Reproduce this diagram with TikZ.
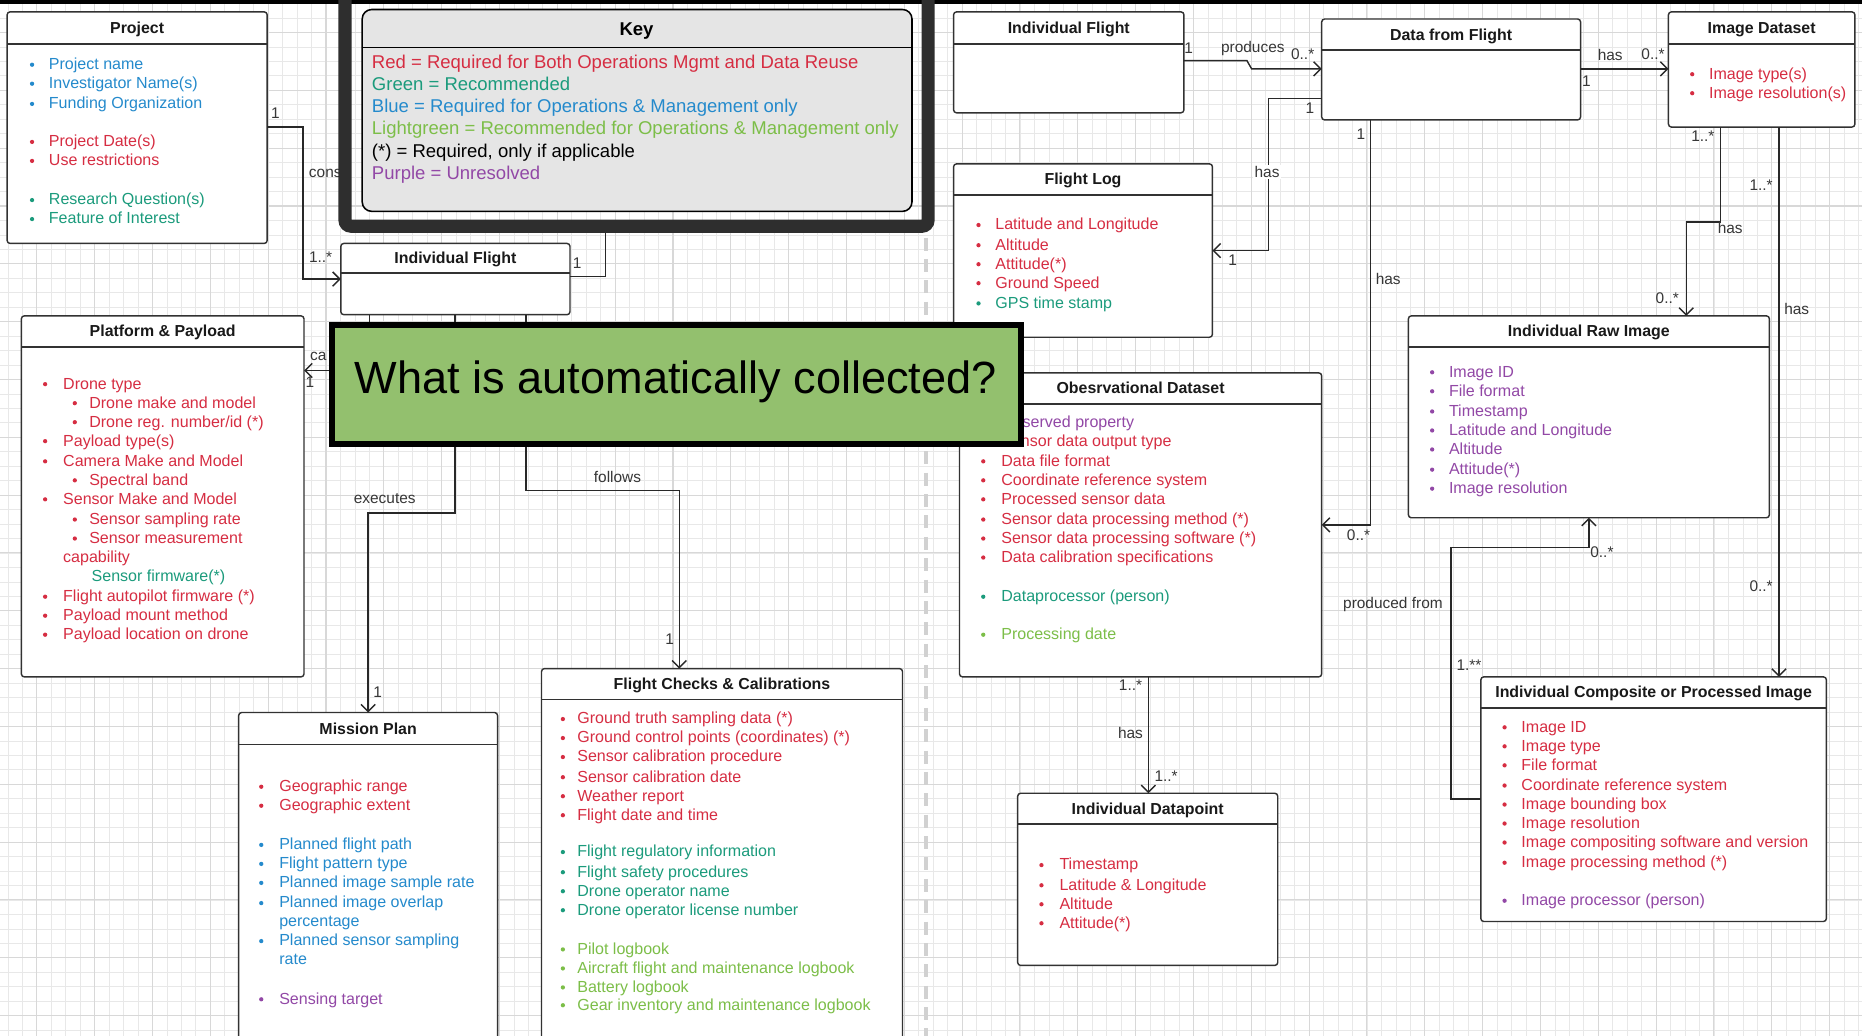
\documentclass[tikz,border=0pt]{standalone}
\usepackage{fontspec}
\setmainfont{Liberation Sans}
\usetikzlibrary{arrows.meta}

\definecolor{cred}{RGB}{214,45,66}
\definecolor{cgreen}{RGB}{27,155,124}
\definecolor{cblue}{RGB}{36,138,204}
\definecolor{clight}{RGB}{124,190,72}
\definecolor{cpurple}{RGB}{146,72,166}
\definecolor{boxc}{RGB}{50,50,50}
\definecolor{linec}{RGB}{40,40,40}
\definecolor{labc}{RGB}{55,55,55}
\definecolor{keyfill}{RGB}{229,229,229}
\definecolor{framec}{RGB}{46,46,46}
\definecolor{notefill}{RGB}{147,192,110}
\definecolor{gridminor}{RGB}{232,232,232}
\definecolor{gridmajor}{RGB}{216,216,216}

\tikzset{
  gminor/.style={draw=gridminor, line width=0.6pt},
  gmajor/.style={draw=gridmajor, line width=0.9pt},
  sepline/.style={draw=black!18, line width=3pt, dash pattern=on 11pt off 7pt},
  classbox/.style={draw=boxc, line width=1.2pt, fill=white, rounded corners=2.5pt,
    inner sep=0pt, outer sep=0pt},
  hdrline/.style={draw=boxc, line width=1.5pt},
  ttl/.style={font=\bfseries\fontsize{13.4}{15}\selectfont, inner sep=0pt, anchor=base, text=black!90},
  itm/.style={font=\fontsize{13.5}{16}\selectfont, inner sep=0pt, anchor=base west},
  keyt/.style={font=\fontsize{15.6}{18}\selectfont, inner sep=0pt, anchor=base west},
  conn/.style={draw=linec, line width=1.2pt},
  arr/.style={conn, -{Straight Barb[length=6pt,width=12pt,line width=1.2pt]}},
  lab/.style={font=\fontsize{13}{15}\selectfont, text=labc, inner sep=1pt},
}

\newcounter{ln}
% box: name, x1, y1, x2, y2, header y, title
\newcommand\umlbox[7]{%
  \node[classbox, anchor=north west, minimum width={(#4-#2)*1pt},
        minimum height={(#5-#3)*1pt}] (#1) at (#2,#3) {};
  \draw[hdrline] (#2,#6) -- (#4,#6);
  \node[ttl] (#1-t) at ({(#2+#4)/2},{(#3+#6)/2+4.7}) {#7};
}
% bulleted line: colour, y, text (uses \bulx and \txtx)
\newcommand\ulitem[3]{%
  \fill[#1] (\bulx,#2+0.5) circle (1.8pt);
  \stepcounter{ln}\node[itm,text=#1] (ln-\theln) at (\txtx,#2+4.6) {#3};
}
% plain line: colour, x, y, text
\newcommand\plainline[4]{%
  \stepcounter{ln}\node[itm,text=#1] (ln-\theln) at (#2,#3+4.6) {#4};
}

\begin{document}
\begin{tikzpicture}[x=1pt,y=-1pt]
\useasboundingbox (0,0) rectangle (1568,872);
\clip (0,0) rectangle (1568,872);
\fill[white] (0,0) rectangle (1568,872);

% background grid
\foreach \k in {0,...,128} \draw[gminor] ({6.65+12.175*\k},0) -- ++(0,872);
\foreach \k in {0,...,72} \draw[gminor] (0,{3+12.175*\k}) -- ++(1568,0);
\foreach \k in {0,...,32} \draw[gmajor] ({31+48.7*\k},0) -- ++(0,872);
\foreach \k in {0,...,18} \draw[gmajor] (0,{27.35+48.7*\k}) -- ++(1568,0);

% separator
\draw[sepline] (780,200) -- (780,872);

% ---------------- classes ----------------
\umlbox{proj}{6}{10}{225}{205}{37}{Project}
\umlbox{ifa}{803}{10}{997}{95}{37}{Individual Flight}
\umlbox{dff}{1113}{16}{1331}{101}{42}{Data from Flight}
\umlbox{imgds}{1405}{10}{1562}{107}{37}{Image Dataset}
\umlbox{flog}{803}{138}{1021}{284}{164}{Flight Log}
\umlbox{ifm}{287}{205}{480}{265}{230}{Individual Flight}
\umlbox{plat}{18}{266}{256}{570}{292}{Platform \& Payload}
\umlbox{obs}{808}{314}{1113}{570}{340}{Obesrvational Dataset}
\umlbox{raw}{1186}{266}{1490}{436}{292}{Individual Raw Image}
\umlbox{fcc}{456}{563}{760}{900}{589}{Flight Checks \& Calibrations}
\umlbox{mp}{201}{600}{419}{900}{627}{Mission Plan}
\umlbox{dp}{857}{668}{1076}{813}{694}{Individual Datapoint}
\umlbox{comp}{1247}{570}{1538}{776}{596}{Individual Composite or Processed Image}

% Project
\def\bulx{27}\def\txtx{41}
\ulitem{cblue}{54}{Project name}
\ulitem{cblue}{70}{Investigator Name(s)}
\ulitem{cblue}{87}{Funding Organization}
\ulitem{cred}{119}{Project Date(s)}
\ulitem{cred}{135}{Use restrictions}
\ulitem{cgreen}{168}{Research Question(s)}
\ulitem{cgreen}{184}{Feature of Interest}

% Platform & Payload
\def\bulx{38}\def\txtx{53}
\ulitem{cred}{323}{Drone type}
\ulitem{cred}{371}{Payload type(s)}
\ulitem{cred}{388}{Camera Make and Model}
\ulitem{cred}{420}{Sensor Make and Model}
\ulitem{cred}{502}{Flight autopilot firmware (*)}
\ulitem{cred}{518}{Payload mount method}
\ulitem{cred}{534}{Payload location on drone}
\def\bulx{63}\def\txtx{75}
\ulitem{cred}{339}{Drone make and model}
\ulitem{cred}{355}{Drone reg. number/id (*)}
\ulitem{cred}{404}{Spectral band}
\ulitem{cred}{437}{Sensor sampling rate}
\ulitem{cred}{453}{Sensor measurement}
\plainline{cred}{53}{469}{capability}
\plainline{cgreen}{77}{485}{Sensor firmware(*)}

% Flight Log
\def\bulx{824}\def\txtx{838}
\ulitem{cred}{189}{Latitude and Longitude}
\ulitem{cred}{206}{Altitude}
\ulitem{cred}{222}{Attitude(*)}
\ulitem{cred}{238}{Ground Speed}
\ulitem{cgreen}{255}{GPS time stamp}

% Image Dataset
\def\bulx{1425}\def\txtx{1439}
\ulitem{cred}{62}{Image type(s)}
\ulitem{cred}{78}{Image resolution(s)}

% Observational dataset
\def\bulx{828}\def\txtx{843}
\ulitem{cpurple}{355}{Observed property}
\ulitem{cred}{371}{Sensor data output type}
\ulitem{cred}{388}{Data file format}
\ulitem{cred}{404}{Coordinate reference system}
\ulitem{cred}{420}{Processed sensor data}
\ulitem{cred}{437}{Sensor data processing method (*)}
\ulitem{cred}{453}{Sensor data processing software (*)}
\ulitem{cred}{469}{Data calibration specifications}
\ulitem{cgreen}{502}{Dataprocessor (person)}
\ulitem{clight}{534}{Processing date}

% Individual Raw Image
\def\bulx{1206}\def\txtx{1220}
\ulitem{cpurple}{313}{Image ID}
\ulitem{cpurple}{329}{File format}
\ulitem{cpurple}{346}{Timestamp}
\ulitem{cpurple}{362}{Latitude and Longitude}
\ulitem{cpurple}{378}{Altitude}
\ulitem{cpurple}{395}{Attitude(*)}
\ulitem{cpurple}{411}{Image resolution}

% Flight Checks & Calibrations
\def\bulx{474}\def\txtx{486}
\ulitem{cred}{605}{Ground truth sampling data (*)}
\ulitem{cred}{621}{Ground control points (coordinates) (*)}
\ulitem{cred}{637}{Sensor calibration procedure}
\ulitem{cred}{654}{Sensor calibration date}
\ulitem{cred}{670}{Weather report}
\ulitem{cred}{686}{Flight date and time}
\ulitem{cgreen}{717}{Flight regulatory information}
\ulitem{cgreen}{734}{Flight safety procedures}
\ulitem{cgreen}{750}{Drone operator name}
\ulitem{cgreen}{766}{Drone operator license number}
\ulitem{clight}{799}{Pilot logbook}
\ulitem{clight}{815}{Aircraft flight and maintenance logbook}
\ulitem{clight}{831}{Battery logbook}
\ulitem{clight}{846}{Gear inventory and maintenance logbook}

% Mission Plan
\def\bulx{220}\def\txtx{235}
\ulitem{cred}{662}{Geographic range}
\ulitem{cred}{678}{Geographic extent}
\ulitem{cblue}{711}{Planned flight path}
\ulitem{cblue}{727}{Flight pattern type}
\ulitem{cblue}{743}{Planned image sample rate}
\ulitem{cblue}{760}{Planned image overlap}
\plainline{cblue}{235}{776}{percentage}
\ulitem{cblue}{792}{Planned sensor sampling}
\plainline{cblue}{235}{808}{rate}
\ulitem{cpurple}{841}{Sensing target}

% Individual Datapoint
\def\bulx{877}\def\txtx{892}
\ulitem{cred}{728}{Timestamp}
\ulitem{cred}{745}{Latitude \& Longitude}
\ulitem{cred}{761}{Altitude}
\ulitem{cred}{777}{Attitude(*)}

% Individual Composite or Processed Image
\def\bulx{1267}\def\txtx{1281}
\ulitem{cred}{612}{Image ID}
\ulitem{cred}{628}{Image type}
\ulitem{cred}{644}{File format}
\ulitem{cred}{661}{Coordinate reference system}
\ulitem{cred}{677}{Image bounding box}
\ulitem{cred}{693}{Image resolution}
\ulitem{cred}{709}{Image compositing software and version}
\ulitem{cred}{726}{Image processing method (*)}
\ulitem{cpurple}{758}{Image processor (person)}

% ---------------- associations ----------------
\draw[arr] (proj.east |- 0,107) -| (255,235) -- (ifm.west |- 0,235);
\coordinate (ifmup) at (510,190);
\draw[conn] (ifm.east |- 0,233) -| (ifmup);
\draw[arr] (ifm.south -| 311,0) |- (plat.east |- 0,312);
\draw[arr] (ifm.south -| 383,0) -- (383,432) -| (mp.north);
\draw[arr] (ifm.south -| 443,0) -- (443,413) -| (fcc.north -| 572,0);

\draw[arr] (ifa.east |- 0,51) -- (1050,51) -- (1054,58) -- (dff.west |- 0,58);
\draw[arr] (dff.east |- 0,58) -- (imgds.west |- 0,58);
\draw[arr] (dff.west |- 0,83) -| (1068,211) -- (flog.east |- 0,211);
\draw[arr] (dff.south -| 1154,0) |- (obs.east |- 0,442);
\draw[arr] (imgds.south -| 1449,0) |- (1420,187) -- (raw.north -| 1420,0);
\draw[arr] (imgds.south -| 1498,0) -- (comp.north -| 1498,0);
\draw[arr] (comp.west |- 0,673) -| (1222,461) -| (raw.south -| 1338,0);
\draw[arr] (obs.south -| 967,0) -- (dp.north -| 967,0);

% association labels
\node[lab] (m1) at (232,95) {1};
\node[lab, anchor=west] (lcons) at (259,146) {cons};
\node[lab] (m2) at (270,217) {1..*};
\node[lab] (m3) at (486,222) {1};
\node[lab, anchor=west] (lca) at (260,300) {ca};
\node[lab] (m4) at (261,322) {1};
\node[lab] (m5) at (303,276) {1};
\node[lab] (m6) at (374,276) {1};
\node[lab] (m7) at (436,276) {1};
\node[lab] (lexec) at (324,420) {executes};
\node[lab] (m8) at (318,583) {1};
\node[lab] (lfol) at (520,402) {follows};
\node[lab] (m9) at (564,538) {1};

\node[lab] (m10) at (1001,41) {1};
\node[lab] (lprod) at (1055,41) {produces};
\node[lab] (m11) at (1097,46) {0..*};
\node[lab] (lhas1) at (1356,46) {has};
\node[lab] (m12) at (1392,46) {0..*};
\node[lab] (m13) at (1336,68) {1};
\node[lab] (m14) at (1103,91) {1};
\node[lab, fill=white] (lhas2) at (1067,145) {has};
\node[lab] (m15) at (1038,219) {1};
\node[lab] (m16) at (1146,113) {1};
\node[lab] (lhas3) at (1169,235) {has};
\node[lab] (m17) at (1144,451) {0..*};
\node[lab] (m18) at (1434,115) {1..*};
\node[lab] (lhas4) at (1457,192) {has};
\node[lab] (m19) at (1404,251) {0..*};
\node[lab] (m20) at (1483,156) {1..*};
\node[lab] (lhas5) at (1513,260) {has};
\node[lab] (m21) at (1483,494) {0..*};
\node[lab] (lpf) at (1173,509) {produced from};
\node[lab] (m22) at (1237,560) {1.**};
\node[lab] (m23) at (1349,465) {0..*};
\node[lab] (m24) at (952,577) {1..*};
\node[lab] (lhas6) at (952,617) {has};
\node[lab] (m25) at (982,654) {1..*};

% ---------------- question banner ----------------
\node[draw=black, line width=5pt, fill=notefill, inner sep=0pt, outer sep=0pt,
      anchor=north west, minimum width=580pt, minimum height=100pt] (note) at (279.5,273.5) {};
\node[font=\fontsize{38}{40}\selectfont, anchor=base, inner sep=0pt] (notet) at (569,331)
  {What is automatically collected?};

% ---------------- key ----------------
\fill[black] (0,0) rectangle (1568,3);
\draw[draw=framec, line width=11pt, rounded corners=5pt] (290.5,-30) rectangle (781.5,190.5);
\node[draw=black, line width=1.3pt, fill=keyfill, rounded corners=8pt, inner sep=0pt,
      outer sep=0pt, anchor=north west, minimum width=463pt, minimum height=170pt] (key) at (305,8) {};
\draw[draw=black, line width=1.3pt] (key.west |- 0,40) -- (key.east |- 0,40);
\node[font=\bfseries\fontsize{15.6}{17}\selectfont, anchor=base, inner sep=0pt] (key-t) at (536,29.5) {Key};
\node[keyt, text=cred] (k1) at (313,57.5) {Red = Required for Both Operations Mgmt and Data Reuse};
\node[keyt, text=cgreen] (k2) at (313,76.5) {Green = Recommended};
\node[keyt, text=cblue] (k3) at (313,94.5) {Blue = Required for Operations \& Management only};
\node[keyt, text=clight] (k4) at (313,113.5) {Lightgreen = Recommended for Operations \& Management only};
\node[keyt, text=black] (k5) at (313,132.5) {(*) = Required, only if applicable};
\node[keyt, text=cpurple] (k6) at (313,151.5) {Purple = Unresolved};
\end{tikzpicture}
\end{document}
